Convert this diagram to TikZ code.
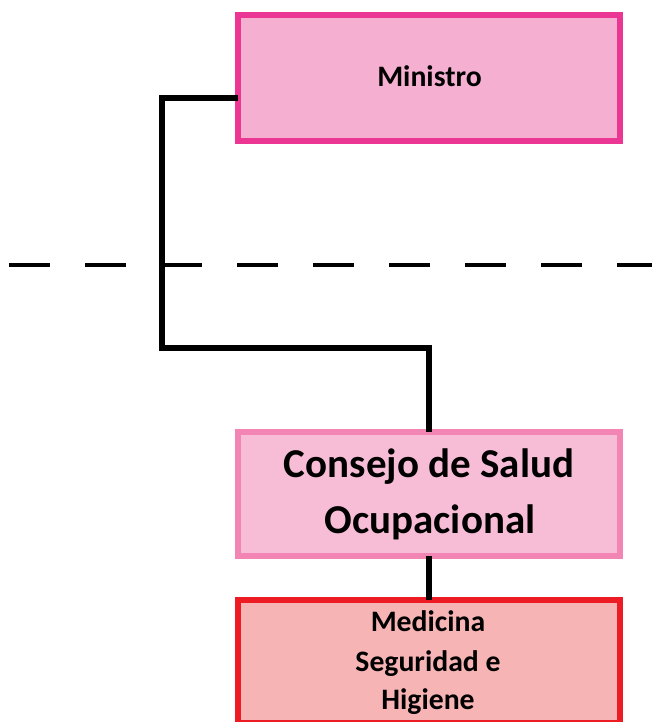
\documentclass[tikz,border=0pt]{standalone}
\usepackage{fontspec}
\setmainfont{Carlito}
\definecolor{minB}{HTML}{EC3694}
\definecolor{minF}{HTML}{F5AFD0}
\definecolor{conB}{HTML}{F385B4}
\definecolor{conF}{HTML}{F7BDD7}
\definecolor{medB}{HTML}{ED1C24}
\definecolor{medF}{HTML}{F7B4B5}
\begin{document}
\begin{tikzpicture}[x=1pt,y=-1pt,
  box/.style={draw, line width=6pt, inner sep=0pt, outer sep=0pt, minimum width=382pt},
  conn/.style={draw=black, line width=6pt},
  small/.style={font=\fontsize{29.7}{36}\selectfont\bfseries, anchor=base, inner sep=0pt},
  big/.style={font=\fontsize{41}{50}\selectfont\bfseries, anchor=base, inner sep=0pt}]
\useasboundingbox (0,0) rectangle (652,722);
\fill[white] (0,0) rectangle (652,722);
% dashed level line
\draw[line width=4pt, dash pattern=on 41pt off 35pt] (9,265) -- (660,265);
% boxes
\node[box, draw=minB, fill=minF, minimum height=126pt] (min) at (429,78) {};
\node[box, draw=conB, fill=conF, minimum height=124pt] (con) at (429,494) {};
\node[box, draw=medB, fill=medF, minimum height=123pt] (med) at (429,661.5) {};
% texts
\node[small] (tmin) at (429.5,87) {Ministro};
\node[big] (tcon1) at (429,477) {Consejo de Salud};
\node[big] (tcon2) at (430,533) {Ocupacional};
\node[small] (tmed1) at (428,631) {Medicina};
\node[small] (tmed2) at (428,671) {Seguridad e};
\node[small] (tmed3) at (428,709) {Higiene};
% connectors
\coordinate (bend) at (162,348);
\draw[conn] ([yshift=-20pt]min.west) -| (bend) -| (con.north);
\draw[conn] (con.south) -- (med.north);
\end{tikzpicture}
\end{document}
